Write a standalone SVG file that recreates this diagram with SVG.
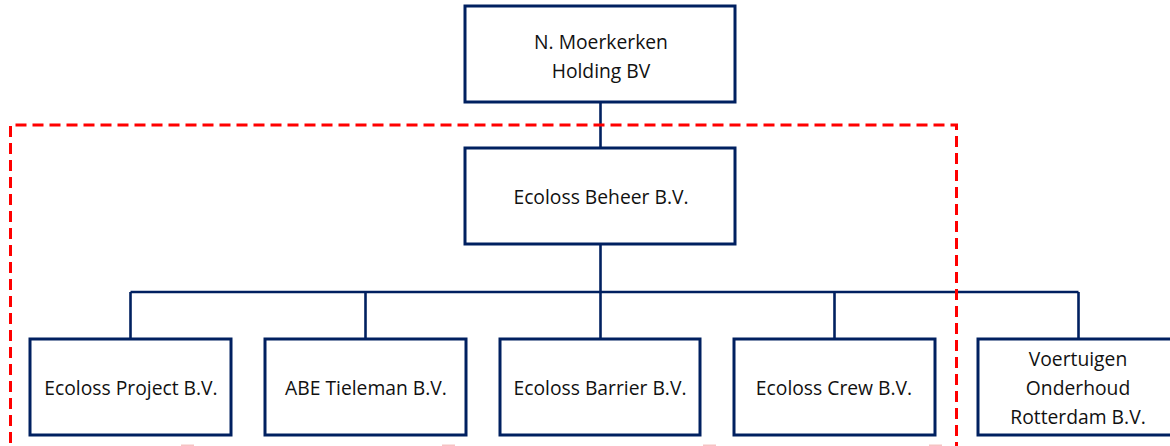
<svg xmlns="http://www.w3.org/2000/svg" width="1170" height="446" viewBox="0 0 1170 446">
<style>
.box{fill:#ffffff;stroke:#002060;stroke-width:3}
.con{fill:none;stroke:#002060;stroke-width:2.6}
.lbl{font-family:"Open Sans","Liberation Sans",sans-serif;font-size:19.3px;fill:#111111;text-anchor:middle}
.grp{fill:none;stroke:#ff0000;stroke-width:3;stroke-dasharray:11 6}
.mark{fill:#f6c4c4}
</style>
<rect x="0" y="0" width="1170" height="446" fill="#ffffff"/>
<g id="connectors">
<line class="con" x1="600.5" y1="102" x2="600.5" y2="148"/>
<line class="con" x1="600.5" y1="245" x2="600.5" y2="292"/>
<line class="con" x1="130.5" y1="292" x2="1078.5" y2="292"/>
<line class="con" x1="130.5" y1="292" x2="130.5" y2="339"/>
<line class="con" x1="365.5" y1="292" x2="365.5" y2="339"/>
<line class="con" x1="600.5" y1="292" x2="600.5" y2="339"/>
<line class="con" x1="834.5" y1="292" x2="834.5" y2="339"/>
<line class="con" x1="1078.5" y1="292" x2="1078.5" y2="339"/>
</g>
<path id="group-boundary" class="grp" d="M10.5,460 V125 H956.5 V460"/>
<g id="n-moerkerken">
<rect class="box" x="465" y="6" width="270" height="96"/>
<text class="lbl" x="601" y="48.5">N. Moerkerken</text>
<text class="lbl" x="601" y="77.5">Holding BV</text>
</g>
<g id="ecoloss-beheer">
<rect class="box" x="465" y="148" width="270" height="96"/>
<text class="lbl" x="601" y="203.5">Ecoloss Beheer B.V.</text>
</g>
<g id="ecoloss-project">
<rect class="box" x="30" y="339" width="201" height="96"/>
<text class="lbl" x="131" y="394.5">Ecoloss Project B.V.</text>
</g>
<g id="abe-tieleman">
<rect class="box" x="265" y="339" width="201" height="96"/>
<text class="lbl" x="366" y="394.5">ABE Tieleman B.V.</text>
</g>
<g id="ecoloss-barrier">
<rect class="box" x="500" y="339" width="200" height="96"/>
<text class="lbl" x="600" y="394.5">Ecoloss Barrier B.V.</text>
</g>
<g id="ecoloss-crew">
<rect class="box" x="734" y="339" width="201" height="96"/>
<text class="lbl" x="834" y="394.5">Ecoloss Crew B.V.</text>
</g>
<g id="voertuigen-onderhoud">
<rect class="box" x="978" y="339" width="202" height="96"/>
<text class="lbl" x="1078" y="365.5">Voertuigen</text>
<text class="lbl" x="1078" y="395">Onderhoud</text>
<text class="lbl" x="1078" y="423.5">Rotterdam B.V.</text>
</g>
<rect class="mark" x="181" y="444.5" width="13" height="1.5"/>
<rect class="mark" x="442" y="444.5" width="13" height="1.5"/>
<rect class="mark" x="703" y="444.5" width="13" height="1.5"/>
<rect class="mark" x="929" y="444.5" width="13" height="1.5"/>
</svg>
